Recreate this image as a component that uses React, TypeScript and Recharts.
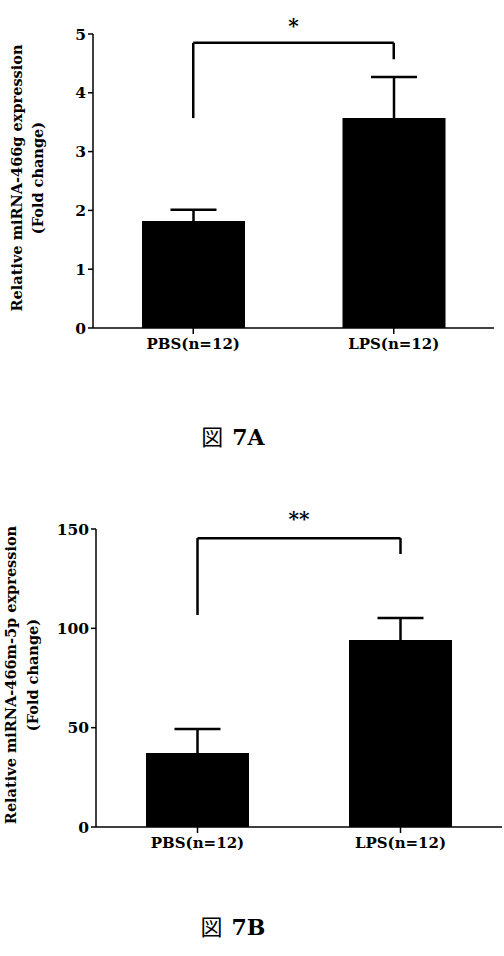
import React from 'react'
import { BarChart, Bar, XAxis, YAxis, ErrorBar, ReferenceLine, Label } from 'recharts'

const groups = ['PBS(n=12)', 'LPS(n=12)']
const meanA = [1.82, 3.57]
const semA = [0.19, 0.7]
const meanB = [37.2, 94.1]
const semB = [12.1, 11.1]
const ticksA = [0, 1, 2, 3, 4, 5]
const ticksB = [0, 50, 100, 150]
// significance bracket: left foot, right foot, top
const bracketA = [3.57, 4.57, 4.85]
const bracketB = [106.7, 137.4, 145.4]

const FONT = '"DejaVu Serif", "Liberation Serif", serif'
const CJK = '"Noto Sans CJK JP", sans-serif'

const rows = (means: number[], sems: number[]) =>
  groups.map((g, i) => ({ name: g, mean: means[i], err: sems[i] }))

function YTitle(props: any) {
  const { viewBox, lines, dx } = props
  const { x, y, height } = viewBox
  const cy = y + height / 2 - 3
  return (
    <g>
      {lines.map((t: string, i: number) => {
        const tx = x + dx[i]
        return (
          <text key={i} x={tx} y={cy} transform={`rotate(-90 ${tx} ${cy})`} textAnchor="middle"
            dominantBaseline="central" fontFamily={FONT} fontWeight="bold" fontSize={14.5} fill="#000">{t}</text>
        )
      })}
    </g>
  )
}

function Panel(props: any) {
  const { data, ticks, max, bracket, stars, title, top, left, right, bottom, height, dx, starGap } = props
  return (
    <BarChart width={504} height={height} data={data} margin={{ top, right, left: 0, bottom: 0 }}>
      <XAxis dataKey="name" height={bottom} axisLine={{ stroke: '#000', strokeWidth: 1.5 }}
        tickLine={{ stroke: '#000', strokeWidth: 1.5 }} tickSize={6} tickMargin={4}
        tick={{ fill: '#000', fontSize: 15, fontFamily: FONT, fontWeight: 'bold' }} />
      <YAxis width={left} domain={[0, max]} ticks={ticks} interval={0} allowDataOverflow
        axisLine={{ stroke: '#000', strokeWidth: 1.5 }} tickLine={{ stroke: '#000', strokeWidth: 1.5 }}
        tickSize={5} tickMargin={2}
        tick={{ fill: '#000', fontSize: 15.5, fontFamily: FONT, fontWeight: 'bold' }}
        label={<Label content={(p: any) => <YTitle {...p} lines={title} dx={dx} />} />} />
      <Bar dataKey="mean" fill="#000" barSize={103} isAnimationActive={false}>
        <ErrorBar dataKey="err" width={23} stroke="#000" strokeWidth={2.5} direction="y" />
      </Bar>
      <ReferenceLine segment={[{ x: groups[0], y: bracket[0] }, { x: groups[0], y: bracket[2] }]}
        stroke="#000" strokeWidth={2.5} ifOverflow="visible" />
      <ReferenceLine segment={[{ x: groups[1], y: bracket[1] }, { x: groups[1], y: bracket[2] }]}
        stroke="#000" strokeWidth={2.5} ifOverflow="visible" />
      <ReferenceLine segment={[{ x: groups[0], y: bracket[2] }, { x: groups[1], y: bracket[2] }]}
        stroke="#000" strokeWidth={2.5} ifOverflow="visible">
        <Label value={stars} position="top" offset={starGap} fill="#000" fontSize={20} fontWeight="bold" fontFamily={FONT} />
      </ReferenceLine>
    </BarChart>
  )
}

function Caption({ text, top }: { text: string; top: number }) {
  return (
    <div style={{ position: 'absolute', top, left: 0, width: 466, textAlign: 'center', fontSize: 22, lineHeight: '26px', color: '#000' }}>
      <span style={{ fontFamily: CJK }}>図</span>
      <span style={{ fontFamily: FONT, fontWeight: 'bold', marginLeft: 9 }}>{text}</span>
    </div>
  )
}

export default function App() {
  return (
    <div style={{ position: 'absolute', left: 0, top: 0, width: 504, height: 956, background: '#fff' }}>
      <div style={{ position: 'absolute', left: 0, top: 0 }}>
        <Panel data={rows(meanA, semA)} ticks={ticksA} max={5} bracket={bracketA} stars="*"
          title={['Relative miRNA-466g expression', '(Fold change)']} dx={[16, 37]} starGap={10}
          top={34} left={93} right={10} bottom={32} height={360} />
      </div>
      <Caption text="7A" top={422} />
      <div style={{ position: 'absolute', left: 0, top: 480 }}>
        <Panel data={rows(meanB, semB)} ticks={ticksB} max={150} bracket={bracketB} stars="**"
          title={['Relative miRNA-466m-5p expression', '(Fold change)']} dx={[10, 32]} starGap={12}
          top={49} left={96} right={2} bottom={33} height={380} />
      </div>
      <Caption text="7B" top={912} />
    </div>
  )
}
